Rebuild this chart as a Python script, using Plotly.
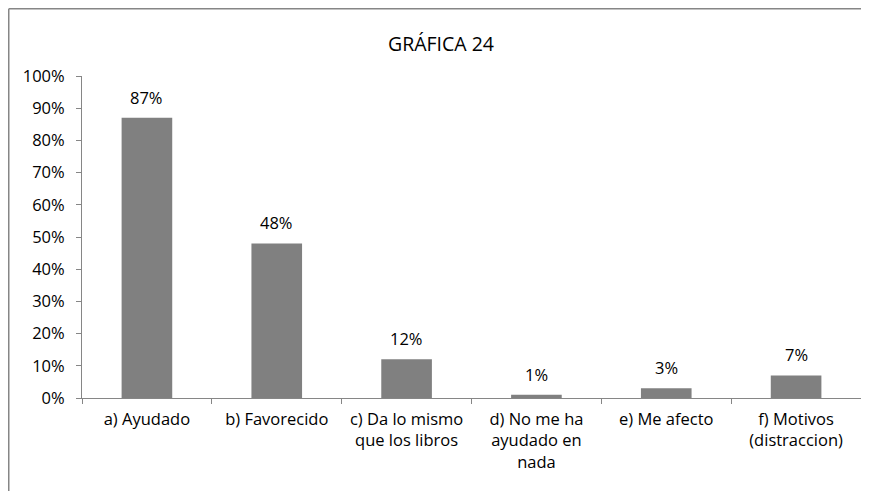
import plotly.graph_objects as go

categories = ["a) Ayudado", "b) Favorecido", "c) Da lo mismo<br>que los libros",
              "d) No me ha<br>ayudado en<br>nada", "e) Me afecto", "f) Motivos<br>(distraccion)"]
values = [0.87, 0.48, 0.12, 0.01, 0.03, 0.07]
labels = [f"{v*100:.0f}%" for v in values]
title_text = "GRÁFICA 24"

# page has an 8px body margin; figure drawn at (8, 8)
W, H = 861, 483
L, R, T, B = 74, 8, 68, 93
pw = W - L - R
ph = H - T - B
FONT = "Open Sans, sans-serif"

fig = go.Figure(go.Bar(
    x=categories, y=values,
    marker=dict(color="#808080", line=dict(width=0)),
    hoverinfo="skip",
))

for c, v, t in zip(categories, values, labels):
    fig.add_annotation(x=c, y=v, text=t, showarrow=False, yanchor="bottom", yshift=7,
                       font=dict(family=FONT, size=16.5, color="#000000"))

fig.update_layout(
    width=W, height=H,
    margin=dict(l=L, r=R, t=T, b=B),
    paper_bgcolor="white", plot_bgcolor="white",
    bargap=0.61,
    showlegend=False,
    font=dict(family=FONT, size=16.5, color="#000000"),
    title=dict(text=title_text, x=433 / W, xanchor="center", y=1 - 36 / H, yanchor="middle",
               font=dict(family=FONT, size=19.5, color="#000000")),
    xaxis=dict(showline=True, linecolor="#868686", linewidth=1,
               ticks="outside", tickson="boundaries", ticklen=5, tickcolor="#868686",
               ticklabelstandoff=6,
               showgrid=False, tickfont=dict(size=16.5)),
    yaxis=dict(range=[0, 1], dtick=0.1, tickformat=".0%", showline=True, linecolor="#868686",
               linewidth=1, ticks="outside", ticklen=5, tickcolor="#868686",
               ticklabelstandoff=8,
               showgrid=False, zeroline=False, tickfont=dict(size=16.5)),
    shapes=[
        dict(type="line", xref="paper", yref="paper",
             x0=(0.75 - L) / pw, x1=(0.75 - L) / pw, y0=(H - B - 0.75) / ph, y1=(H - B - H) / ph,
             line=dict(color="#868686", width=1.5)),
        dict(type="line", xref="paper", yref="paper",
             x0=(0.75 - L) / pw, x1=(W - L) / pw, y0=(H - B - 0.75) / ph, y1=(H - B - 0.75) / ph,
             line=dict(color="#868686", width=1.5)),
    ],
)

fig.write_html("out.html")
